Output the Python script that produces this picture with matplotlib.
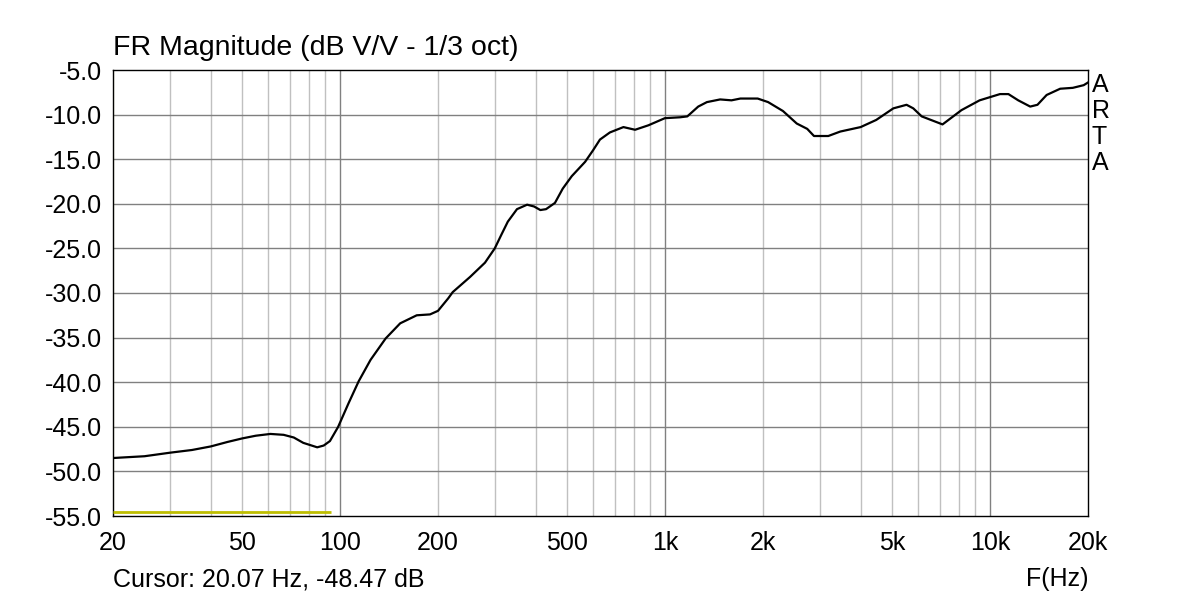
import matplotlib
matplotlib.use("Agg")
import matplotlib.pyplot as plt
from matplotlib.ticker import FixedLocator, NullFormatter

plt.rcParams['font.family'] = ['Liberation Sans', 'DejaVu Sans']

freq_hz = [20, 25, 30, 35, 40, 45, 50, 55, 61, 67, 72, 77, 85, 89, 93, 98.6,
           106, 114, 124, 138, 153, 172, 189, 200, 215, 222, 251, 279, 299, 313,
           328, 350, 376, 395, 413, 430, 458, 484, 516, 567, 600, 630, 676, 744,
           808, 888, 998, 1112, 1170, 1264, 1344, 1476, 1600, 1704, 1926, 2074,
           2304, 2540, 2736, 2870, 3176, 3458, 3994, 4460, 5036, 5530, 5800,
           6156, 7136, 8160, 9280, 10720, 11380, 12200, 13280, 13980, 14920,
           16420, 17960, 19400, 20000]
mag_db = [-48.5, -48.3, -47.9, -47.6, -47.2, -46.7, -46.3, -46.0, -45.8, -45.9,
          -46.2, -46.8, -47.3, -47.1, -46.6, -45.0, -42.4, -39.9, -37.5, -35.1,
          -33.4, -32.5, -32.4, -32.0, -30.6, -29.9, -28.2, -26.6, -25.0, -23.5,
          -22.0, -20.6, -20.1, -20.3, -20.7, -20.6, -19.9, -18.3, -16.9, -15.3,
          -14.0, -12.8, -12.0, -11.4, -11.7, -11.2, -10.4, -10.3, -10.2, -9.1,
          -8.6, -8.3, -8.4, -8.2, -8.2, -8.6, -9.6, -11.0, -11.6, -12.4, -12.4,
          -11.9, -11.4, -10.6, -9.3, -8.9, -9.3, -10.2, -11.1, -9.5, -8.4, -7.7,
          -7.7, -8.4, -9.1, -8.9, -7.8, -7.1, -7.0, -6.7, -6.4]

cursor_freq = [20.07, 94]
cursor_level = [-54.6, -54.6]

xtick_vals = [20, 50, 100, 200, 500, 1000, 2000, 5000, 10000, 20000]
xtick_labels = ['20', '50', '100', '200', '500', '1k', '2k', '5k', '10k', '20k']
ytick_vals = [-5, -10, -15, -20, -25, -30, -35, -40, -45, -50, -55]

fig = plt.figure(figsize=(12, 6), dpi=100)
ax = fig.add_axes([113/1200, 1 - 516/600, (1088 - 113)/1200, (516 - 70)/600])

ax.set_xscale('log')
ax.set_xlim(20, 20000)
ax.set_ylim(-55, -5)

minor = []
for dec in [10, 100, 1000, 10000]:
    for m in range(2, 10):
        v = m * dec
        if 20 < v < 20000 and v not in (100, 1000, 10000):
            minor.append(v)
for v in minor:
    ax.axvline(v, color='#c0c0c0', lw=1.0, zorder=1)
for v in [100, 1000, 10000]:
    ax.axvline(v, color='#808080', lw=1.0, zorder=1)
for v in ytick_vals[1:-1]:
    ax.axhline(v, color='#808080', lw=1.0, zorder=1)

ax.xaxis.set_major_locator(FixedLocator(xtick_vals))
ax.set_xticklabels(xtick_labels)
ax.xaxis.set_minor_formatter(NullFormatter())
ax.xaxis.set_minor_locator(FixedLocator([]))
ax.set_yticks(ytick_vals)
ax.set_yticklabels([f'{v:.1f}' for v in ytick_vals])
ax.tick_params(axis='both', length=0, labelsize=18, colors='black')
ax.tick_params(axis='y', pad=8)
ax.tick_params(axis='x', pad=11)

ax.axvline(20.07, color='#c8c800', lw=1.5, zorder=2)
ax.plot(cursor_freq, cursor_level, color='#bebe00', lw=2.0, zorder=3,
        solid_capstyle='butt')
ax.plot(freq_hz, mag_db, color='black', lw=1.6, zorder=4,
        solid_joinstyle='round')

for s in ax.spines.values():
    s.set_color('black')
    s.set_linewidth(1.0)

fig.text(113/1200, 1 - 48/600, 'FR Magnitude (dB V/V - 1/3 oct)', fontsize=20.5,
         ha='left', va='center')
fig.text(113/1200, 1 - 579/600, 'Cursor: 20.07 Hz, -48.47 dB', fontsize=18,
         ha='left', va='center')
fig.text(1088/1200, 1 - 579/600, 'F(Hz)', fontsize=18, ha='right', va='center')
for i, ch in enumerate(['A', 'R', 'T', 'A']):
    fig.text(1092/1200, 1 - (85 + 26 * i)/600, ch, fontsize=18, ha='left',
             va='center')

fig.savefig('out.png', dpi=100)
